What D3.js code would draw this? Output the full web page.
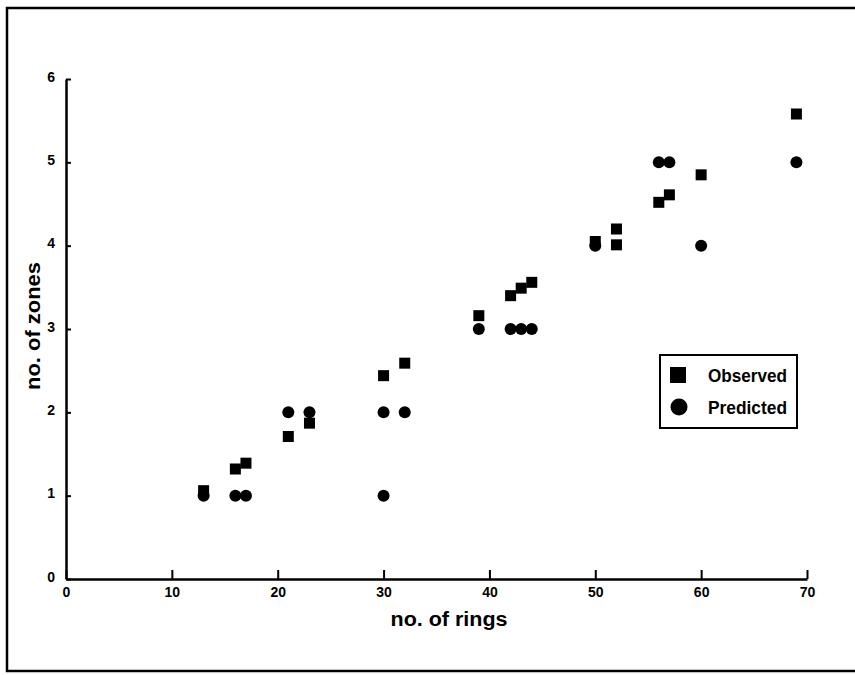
<!DOCTYPE html>
<html>
<head>
<meta charset="utf-8">
<script src="https://cdn.jsdelivr.net/npm/d3@7"></script>
<style>
  html, body { margin: 0; padding: 0; background: #fff; }
  svg { display: block; }
  text { font-family: "Liberation Sans", Arial, sans-serif; font-weight: bold; fill: #000; }
</style>
</head>
<body>
<svg id="chart" width="855" height="675"></svg>
<script>
// ---- data ----
const xTicks = [0, 10, 20, 30, 40, 50, 60, 70];
const yTicks = [0, 1, 2, 3, 4, 5, 6];

const observedRings = [13, 16, 17, 21, 23, 30, 32, 39, 42, 43, 44, 50, 52, 52, 56, 57, 60, 69];
const observedZones = [1.06, 1.32, 1.39, 1.71, 1.87, 2.44, 2.59, 3.16, 3.40, 3.49, 3.56, 4.05, 4.20, 4.01, 4.52, 4.61, 4.85, 5.58];

const predictedRings = [13, 16, 17, 21, 23, 30, 30, 32, 39, 42, 43, 44, 50, 56, 57, 60, 69];
const predictedZones = [1, 1, 1, 2, 2, 2, 1, 2, 3, 3, 3, 3, 4, 5, 5, 4, 5];

const legendLabels = ["Observed", "Predicted"];
const xTitle = "no. of rings";
const yTitle = "no. of zones";

// ---- drawing ----
const svg = d3.select("#chart");

// outer frame
svg.append("rect")
  .attr("x", 7).attr("y", 8)
  .attr("width", 860).attr("height", 663)
  .attr("fill", "none").attr("stroke", "#000").attr("stroke-width", 2.5);

const x = d3.scaleLinear().domain([0, 70]).range([66, 807]);
const y = d3.scaleLinear().domain([0, 6]).range([579, 79]);
const fmt = d3.format("d");

const xAxis = svg.append("g")
  .attr("transform", `translate(0,${y(0)})`)
  .call(d3.axisBottom(x).tickValues(xTicks).tickFormat(fmt).tickSizeInner(-9).tickSizeOuter(0).tickPadding(8));
const yAxis = svg.append("g")
  .attr("transform", `translate(${x(0)},0)`)
  .call(d3.axisLeft(y).tickValues(yTicks).tickFormat(fmt).tickSizeInner(-5).tickSizeOuter(0).tickPadding(11));

[xAxis, yAxis].forEach(g => {
  g.select(".domain").attr("stroke", "#000").attr("stroke-width", 2.5);
  g.selectAll(".tick line").attr("stroke", "#000").attr("stroke-width", 2);
  g.selectAll(".tick text")
    .style("font-family", '"Liberation Sans", Arial, sans-serif')
    .style("font-weight", "bold").style("font-size", "14px").attr("fill", "#000");
});
yAxis.selectAll(".tick text").attr("dy", "0.15em");

// axis titles
svg.append("text")
  .attr("x", 449).attr("y", 626)
  .attr("text-anchor", "middle")
  .attr("textLength", 117).attr("lengthAdjust", "spacingAndGlyphs")
  .style("font-size", "20px")
  .text(xTitle);

svg.append("text")
  .attr("transform", `translate(40,326) rotate(-90)`)
  .attr("text-anchor", "middle")
  .attr("textLength", 128).attr("lengthAdjust", "spacingAndGlyphs")
  .style("font-size", "20px")
  .text(yTitle);

// observed squares
const sq = 11;
svg.append("g").selectAll("rect")
  .data(observedRings.map((r, i) => ({ r, z: observedZones[i] })))
  .join("rect")
  .attr("x", d => x(d.r) - sq / 2)
  .attr("y", d => y(d.z) - sq / 2)
  .attr("width", sq).attr("height", sq)
  .attr("fill", "#000");

// predicted circles
svg.append("g").selectAll("circle")
  .data(predictedRings.map((r, i) => ({ r, z: predictedZones[i] })))
  .join("circle")
  .attr("cx", d => x(d.r))
  .attr("cy", d => y(d.z))
  .attr("r", 6)
  .attr("fill", "#000");

// legend
const lg = svg.append("g");
lg.append("rect")
  .attr("x", 660).attr("y", 355).attr("width", 137).attr("height", 73)
  .attr("fill", "#fff").attr("stroke", "#000").attr("stroke-width", 2);
lg.append("rect")
  .attr("x", 670).attr("y", 367).attr("width", 16).attr("height", 16)
  .attr("fill", "#000");
lg.append("circle")
  .attr("cx", 679).attr("cy", 407).attr("r", 8.5)
  .attr("fill", "#000");
legendLabels.forEach((t, i) => {
  lg.append("text")
    .attr("x", 708).attr("y", 382 + i * 32)
    .attr("textLength", 79).attr("lengthAdjust", "spacingAndGlyphs")
    .style("font-size", "19px")
    .text(t);
});
</script>
</body>
</html>
